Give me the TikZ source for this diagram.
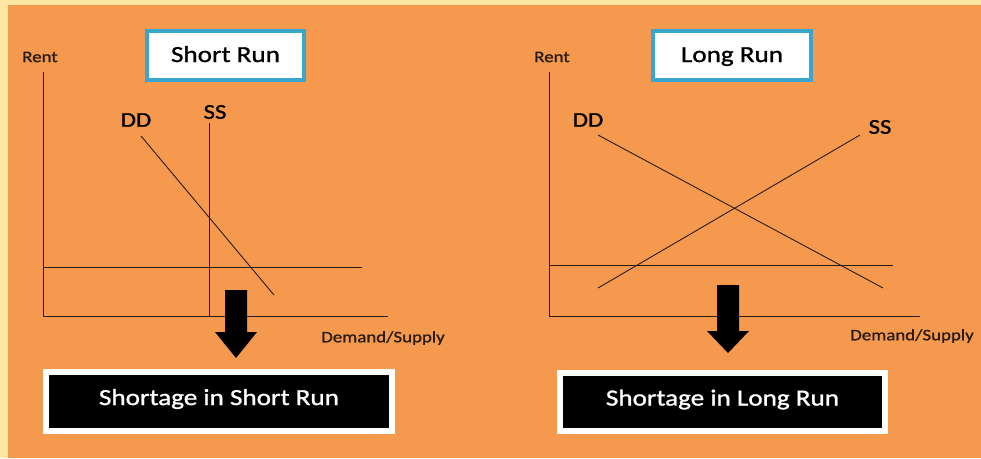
\documentclass[tikz,border=0pt]{standalone}
\usepackage{fontspec}
\setmainfont{Carlito}[FakeStretch=1.18, FakeBold=1.2]
\definecolor{frameyellow}{HTML}{FCE8A2}
\definecolor{bgorange}{HTML}{F4994D}
\definecolor{boxblue}{HTML}{3AA6CF}
\definecolor{inkdark}{HTML}{2A1C12}
\tikzset{
  titlebox/.style={rectangle, draw=boxblue, line width=4pt, fill=white, text=black, text height=15pt, text depth=2pt, font=\fontsize{23}{23}\selectfont},
  resultbox/.style={rectangle, draw=white, line width=6pt, fill=black, text=white, text height=15pt, text depth=8pt, font=\fontsize{23}{23}\selectfont},
  curvelabel/.style={text=black, font=\fontsize{21}{21}\selectfont, inner sep=0pt},
  axislabel/.style={text=inkdark, font=\fontsize{16}{16}\selectfont, inner sep=0pt},
  chartline/.style={draw=inkdark, line width=0.9pt}
}
\begin{document}
\begin{tikzpicture}[x=1pt,y=-1pt]
\fill[frameyellow] (0,0) rectangle (981,458);
\fill[bgorange] (8,5) rectangle (981,458);

% short run
\node (titleA) [titlebox, minimum width=157pt, minimum height=49pt, anchor=north west] at (145,29) {Short Run};
\node (rentA) [axislabel] at (40,57) {Rent};
\node (dsA) [axislabel] at (383,338) {Demand/Supply};
\node (ddA) [curvelabel] at (136,120) {DD};
\node (ssA) [curvelabel] at (215,112) {SS};

\coordinate (topA) at (43,72);
\coordinate (originA) at (43,316);
\coordinate (endA) at (388,316);
\draw[chartline] (topA) -- (originA) -- (endA);
\coordinate (ddA1) at (141,136);
\coordinate (ddA2) at (274,295);
\draw[chartline] (ddA1) -- (ddA2);
\coordinate (ssA1) at (209,123);
\coordinate (ssA2) at (209,316);
\draw[chartline] (ssA1) -- (ssA2);
\coordinate (rentlineA1) at (43,267);
\coordinate (rentlineA2) at (362,267);
\draw[chartline] (rentlineA1) -- (rentlineA2);

\fill[black] (225,290) -- (247,290) -- (247,332) -- (257,332) -- (236,358) -- (215,332) -- (225,332) -- cycle;
\node (resultA) [resultbox, minimum width=346pt, minimum height=59pt, anchor=north west] at (43,369) {Shortage in Short Run};

% long run
\node (titleB) [titlebox, minimum width=158pt, minimum height=49pt, anchor=north west] at (651,29) {Long Run};
\node (rentB) [axislabel] at (552,57) {Rent};
\node (dsB) [axislabel] at (912,336) {Demand/Supply};
\node (ddB) [curvelabel] at (588,120) {DD};
\node (ssB) [curvelabel] at (880,127) {SS};

\coordinate (topB) at (549,72);
\coordinate (originB) at (549,316);
\coordinate (endB) at (920,316);
\draw[chartline] (topB) -- (originB) -- (endB);
\coordinate (ddB1) at (598,135);
\coordinate (ddB2) at (883,288);
\draw[chartline] (ddB1) -- (ddB2);
\coordinate (ssB1) at (598,288);
\coordinate (ssB2) at (860,135);
\draw[chartline] (ssB1) -- (ssB2);
\coordinate (rentlineB1) at (549,265);
\coordinate (rentlineB2) at (893,265);
\draw[chartline] (rentlineB1) -- (rentlineB2);

\fill[black] (717,285) -- (739,285) -- (739,331) -- (749,331) -- (728,353) -- (707,331) -- (717,331) -- cycle;
\node (resultB) [resultbox, minimum width=325pt, minimum height=58pt, anchor=north west] at (557,370) {Shortage in Long Run};
\end{tikzpicture}
\end{document}
